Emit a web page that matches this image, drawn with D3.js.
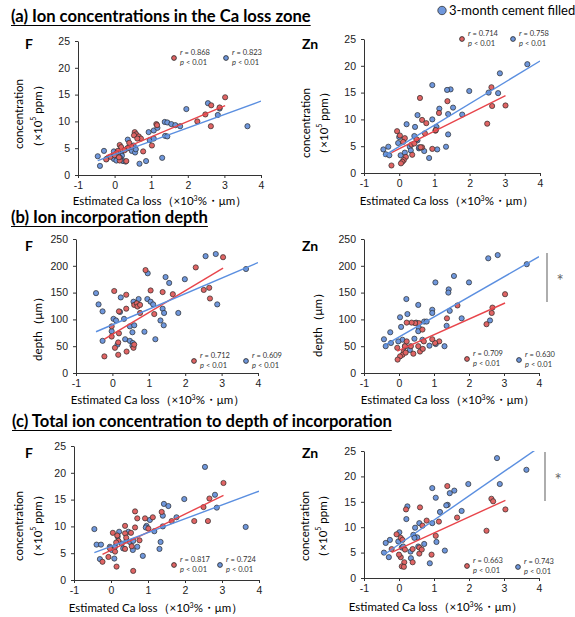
<!DOCTYPE html>
<html>
<head>
<meta charset="utf-8">
<script src="https://cdn.jsdelivr.net/npm/d3@7"></script>
<style>
  body { margin: 0; background: #fff; }
  svg { font-family: Lato, "Noto Sans", sans-serif; }
  .axis text { font-size: 10.5px; fill: #222; }
  .axis path, .axis line { stroke: #333; }
</style>
</head>
<body>
<div id="chart"></div>
<script>
// tick labels
var xTicks = [-1, 0, 1, 2, 3, 4];
var concTicks = [0, 5, 10, 15, 20, 25];
var depthTicks = [0, 50, 100, 150, 200, 250];

// (a) F : [Ca loss, concentration]
var aF_red = [[3.02,14.5],[2.64,13.0],[2.87,12.6],[2.48,11.3],[2.26,10.0],[2.63,9.1],[1.14,9.5],[1.16,9.3],[0.55,8.0],[0.59,7.6],[0.66,7.2],[0.53,7.4],[0.72,6.8],[0.62,6.8],[1.02,5.5],[0.78,4.4],[0.14,5.6],[0.18,5.2],[0.09,4.5],[0.46,5.3],[0.36,5.0],[0.40,6.0],[0.05,4.0],[0.14,2.7],[0.32,2.6],[-0.11,3.4],[-0.23,2.9],[0.27,4.6],[0.00,3.7],[0.12,3.3]];
var aF_blue = [[-0.46,3.5],[-0.40,1.7],[-0.29,4.5],[-0.22,3.0],[-0.02,4.4],[-0.02,3.0],[0.09,3.5],[0.18,3.9],[0.23,2.6],[0.36,6.6],[0.35,5.0],[0.47,4.5],[0.56,4.2],[0.58,4.8],[0.68,2.1],[0.86,2.6],[0.93,8.0],[1.07,8.3],[1.17,8.8],[0.96,6.5],[1.07,6.8],[1.30,3.2],[1.37,9.9],[1.44,9.8],[1.55,9.5],[1.66,9.3],[1.79,9.1],[1.38,7.3],[1.44,7.2],[1.96,12.3],[2.55,13.4],[2.82,11.2],[2.87,12.4],[3.63,9.1],[0.52,5.5],[0.20,3.6],[0.10,4.1],[0.30,2.5],[0.05,2.7],[0.15,3.2]];
// regression lines: [slope, intercept]
var aF_fitRed = [2.88, 4.25];
var aF_fitBlue = [2.49, 3.83];
var aF_r = ["0.868", "0.823"];

// (a) Zn
var aZn_red = [[2.62,16.0],[2.64,12.5],[3.02,12.6],[2.50,9.2],[1.37,13.4],[1.13,11.2],[1.03,7.9],[1.04,8.0],[0.59,14.0],[0.65,9.9],[0.77,9.3],[0.94,4.5],[0.65,4.8],[0.73,7.4],[-0.06,7.8],[0.02,7.0],[0.16,6.5],[0.11,5.8],[0.35,5.3],[0.37,3.4],[0.19,3.0],[0.13,2.4],[0.09,2.1],[0.05,1.8],[-0.22,1.4],[0.61,4.8],[0.49,6.3],[0.43,5.5]];
var aZn_blue = [[3.64,20.3],[2.86,18.6],[2.81,14.9],[2.54,15.0],[1.99,15.3],[1.46,15.6],[1.36,15.5],[0.94,16.4],[1.53,12.2],[1.79,10.9],[1.39,11.0],[1.14,12.0],[1.06,8.6],[0.94,10.0],[1.39,7.2],[1.33,4.9],[1.08,4.4],[0.85,2.8],[0.71,4.1],[0.56,4.6],[0.57,4.8],[0.52,10.8],[0.45,8.6],[0.43,6.9],[0.52,6.1],[0.21,9.1],[0.30,4.9],[0.33,4.2],[0.00,6.7],[-0.03,5.6],[0.04,3.3],[0.16,3.8],[-0.31,4.9],[-0.45,4.4],[-0.38,3.5],[-0.28,3.3]];
var aZn_fitRed = [3.29, 4.51];
var aZn_fitBlue = [3.99, 4.94];
var aZn_r = ["0.714", "0.758"];

// (b) F : [Ca loss, depth]
var bF_red = [[3.04,216],[2.29,197],[2.51,155],[2.66,159],[2.68,139],[1.66,147],[1.38,151],[0.91,192],[1.05,154],[1.15,110],[0.38,146],[0.05,153],[0.38,120],[0.60,127],[0.67,130],[0.69,124],[0.76,127],[0.18,115],[-0.02,87],[-0.02,68],[0.18,74],[0.07,47],[0.16,57],[0.16,34],[-0.22,31],[0.39,40],[0.58,47],[0.60,53],[0.76,112]];
var bF_blue = [[3.67,194],[2.56,218],[2.84,222],[2.88,128],[1.99,175],[1.46,179],[1.56,168],[1.81,112],[0.97,186],[0.96,138],[1.05,133],[1.12,128],[1.38,120],[1.42,112],[1.32,98],[1.41,89],[1.18,63],[0.88,77],[0.72,138],[0.58,133],[0.23,141],[0.21,114],[0.32,101],[0.03,101],[0.10,98],[-0.02,78],[0.48,87],[0.60,89],[0.35,63],[0.48,60],[0.55,76],[0.56,56],[0.55,51],[-0.45,149],[-0.38,128],[-0.27,115],[-0.27,60],[0.14,53]];
var bF_fitRed = [40.6, 72.2];
var bF_fitBlue = [29.0, 90.0];
var bF_r = ["0.712", "0.609"];

// (b) Zn
var bZn_red = [[3.03,147],[2.67,122],[2.65,112],[2.50,91],[1.67,126],[1.37,102],[1.15,59],[1.03,56],[0.95,63],[0.67,81],[0.57,93],[0.46,93],[0.36,94],[0.22,94],[0.71,59],[0.55,50],[0.60,40],[0.68,45],[0.41,36],[0.17,50],[0.14,40],[0.10,34],[0.03,31],[-0.04,25],[-0.05,47],[0.22,59],[0.19,38],[0.34,50]];
var bZn_blue = [[3.65,203],[2.82,220],[2.55,214],[2.60,98],[1.57,181],[2.00,169],[1.04,169],[1.42,156],[1.41,150],[1.79,102],[1.45,116],[0.95,118],[0.95,112],[1.36,88],[1.30,50],[1.05,54],[0.87,51],[0.55,127],[0.72,96],[0.79,96],[0.49,94],[0.57,84],[0.44,64],[0.55,78],[0.21,138],[0.24,110],[0.06,86],[0.03,104],[0.10,62],[-0.02,59],[0.31,43],[0.17,50],[-0.25,76],[-0.23,56],[-0.43,63],[-0.38,50],[0.67,62]];
var bZn_fitRed = [29.2, 42.1];
var bZn_fitBlue = [37.5, 67.0];
var bZn_r = ["0.709", "0.630"];

// (c) F : [Ca loss, concentration]
var cF_red = [[3.04,18.1],[2.66,15.2],[2.50,13.6],[2.62,11.0],[2.25,11.0],[1.64,11.0],[1.37,12.7],[1.13,11.7],[0.92,11.5],[1.01,9.6],[0.65,12.8],[0.71,11.5],[0.65,9.8],[0.77,7.4],[0.38,10.1],[0.54,8.8],[0.38,8.7],[0.41,7.9],[0.05,8.8],[0.17,8.3],[0.20,7.3],[0.14,7.0],[-0.03,5.9],[0.11,5.3],[-0.07,4.3],[-0.23,3.4],[0.15,2.5],[0.60,1.7],[0.38,5.8],[0.56,6.3]];
var cF_blue = [[3.64,9.9],[2.54,21.1],[2.81,15.9],[2.86,13.5],[1.98,15.1],[1.43,14.2],[1.55,13.8],[1.77,11.7],[1.40,12.0],[1.40,10.0],[1.34,7.1],[1.31,5.8],[1.05,11.2],[0.96,10.1],[0.94,9.8],[1.17,9.1],[0.86,4.5],[0.71,6.2],[0.59,5.6],[0.47,9.0],[0.42,7.4],[0.51,7.1],[0.22,9.0],[0.18,8.1],[0.11,6.2],[0.09,4.0],[-0.03,6.2],[0.02,5.6],[-0.45,9.5],[-0.39,6.6],[-0.27,6.6],[-0.30,3.9],[0.29,6.8],[0.33,5.9],[0.60,7.3]];
var cF_fitRed = [3.37, 5.55];
var cF_fitBlue = [2.58, 6.26];
var cF_r = ["0.817", "0.724"];

// (c) Zn
var cZn_red = [[3.04,13.5],[2.64,15.6],[2.69,15.1],[2.50,9.3],[1.38,18.1],[1.66,11.9],[1.14,11.1],[1.05,8.3],[0.93,4.6],[0.79,11.3],[0.60,13.9],[0.67,10.3],[0.58,6.0],[0.58,4.8],[0.65,5.6],[0.39,5.7],[0.39,3.1],[0.20,13.5],[0.17,5.6],[0.15,3.1],[0.08,2.3],[0.14,2.2],[0.05,4.1],[-0.07,8.6],[0.05,7.9],[0.10,7.5],[0.00,4.6],[-0.21,5.7]];
var cZn_blue = [[3.64,21.3],[2.80,23.6],[2.88,18.5],[1.98,18.5],[1.58,17.2],[1.45,16.7],[1.39,14.4],[1.35,14.3],[1.79,13.2],[1.17,13.0],[1.05,15.8],[0.95,17.7],[0.95,10.8],[1.07,7.1],[1.31,5.4],[0.88,2.9],[0.72,6.7],[0.58,10.8],[0.52,8.0],[0.55,6.2],[0.46,9.9],[0.41,8.5],[0.44,7.9],[0.33,5.2],[0.34,3.9],[0.24,14.1],[0.21,11.6],[0.01,9.0],[-0.02,7.2],[0.08,6.0],[-0.26,7.5],[-0.38,6.9],[-0.43,5.0],[-0.29,4.1],[0.12,6.2]];
var cZn_fitRed = [3.15, 5.72];
var cZn_fitBlue = [4.77, 6.63];
var cZn_r = ["0.663", "0.743"];

var redFill = "#e06464", blueFill = "#6f97dc";
var redLine = "#e8454b", blueLine = "#5b8fe0";

var svg = d3.select("#chart").append("svg").attr("width", 575).attr("height", 617);

// section titles, underlined
function title(txt, x, y) {
    var t = svg.append("text").attr("x", x).attr("y", y)
        .style("font-size", "16.6px").style("font-weight", "bold").text(txt);
    var w = t.node().getComputedTextLength();
    svg.append("line").attr("x1", x).attr("x2", x + w).attr("y1", y + 3.5).attr("y2", y + 3.5)
        .attr("stroke", "#000").attr("stroke-width", 1.2);
}
title("(a) Ion concentrations in the Ca loss zone", 11, 22);
title("(b) Ion incorporation depth", 11, 223);
title("(c) Total ion concentration to depth of incorporation", 12, 427);

// top legend (upper item is cut off by the picture edge)
svg.append("circle").attr("cx", 442).attr("cy", 10.5).attr("r", 4.2)
    .attr("fill", blueFill).attr("stroke", "#333").attr("stroke-width", 0.8);
svg.append("text").attr("x", 449).attr("y", 15).style("font-size", "13px").text("3-month cement filled");

// one scatter panel
function panel(p) {
    var x = d3.scaleLinear().domain([-1, 4]).range([p.x0, p.x1]);
    var y = d3.scaleLinear().domain([0, p.yMax]).range([p.y1, p.y0]);
    var g = svg.append("g");

    g.append("g").attr("class", "axis").attr("transform", "translate(0," + p.y1 + ")")
        .call(d3.axisBottom(x).tickValues(xTicks).tickFormat(d => String(d))
            .tickSize(3).tickSizeOuter(0).tickPadding(4));
    g.append("g").attr("class", "axis").attr("transform", "translate(" + p.x0 + ",0)")
        .call(d3.axisLeft(y).tickValues(p.yTicks).tickSize(3).tickSizeOuter(0).tickPadding(5));

    // regression lines, blue extended to axis end and clipped
    var clipId = "clip" + p.id;
    g.append("clipPath").attr("id", clipId).append("rect")
        .attr("x", p.x0).attr("y", p.y0).attr("width", p.x1 - p.x0).attr("height", p.y1 - p.y0);
    var fits = [
        {f: p.fitRed, from: d3.min(p.red, d => d[0]), to: d3.max(p.red, d => d[0]), c: redLine},
        {f: p.fitBlue, from: d3.min(p.blue, d => d[0]), to: 4, c: blueLine}
    ];

    // points: blue first, red on top
    g.selectAll(".pb").data(p.blue).enter().append("circle")
        .attr("cx", d => x(d[0])).attr("cy", d => y(d[1])).attr("r", 2.6)
        .attr("fill", blueFill).attr("stroke", "#2b2b2b").attr("stroke-width", 0.7);
    g.selectAll(".pr").data(p.red).enter().append("circle")
        .attr("cx", d => x(d[0])).attr("cy", d => y(d[1])).attr("r", 2.6)
        .attr("fill", redFill).attr("stroke", "#2b2b2b").attr("stroke-width", 0.7);

    fits.forEach(function(l) {
        g.append("line").attr("clip-path", "url(#" + clipId + ")")
            .attr("x1", x(l.from)).attr("y1", y(l.f[0] * l.from + l.f[1]))
            .attr("x2", x(l.to)).attr("y2", y(l.f[0] * l.to + l.f[1]))
            .attr("stroke", l.c).attr("stroke-width", 1.4);
    });

    // r / p legends
    [[p.leg[0], redFill, p.r[0]], [p.leg[1], blueFill, p.r[1]]].forEach(function(l) {
        var lx = l[0][0], ly = l[0][1];
        g.append("circle").attr("cx", lx).attr("cy", ly).attr("r", 2.4)
            .attr("fill", l[1]).attr("stroke", "#222").attr("stroke-width", 0.8);
        var t1 = g.append("text").attr("x", lx + 6).attr("y", ly - 3).style("font-size", "7.5px").attr("fill", "#333");
        t1.append("tspan").style("font-style", "italic").text("r");
        t1.append("tspan").text(" = " + l[2]);
        var t2 = g.append("text").attr("x", lx + 6).attr("y", ly + 6.5).style("font-size", "7.5px").attr("fill", "#333");
        t2.append("tspan").style("font-style", "italic").text("p");
        t2.append("tspan").text(" < 0.01");
    });

    // panel letter
    g.append("text").attr("x", p.lab[0]).attr("y", p.lab[1]).style("font-size", "14px")
        .style("font-weight", "bold").text(p.ion);

    // y label
    p.ylab.forEach(function(l) {
        var t = g.append("text").attr("transform", "translate(" + l[0] + "," + l[1] + ") rotate(-90)")
            .attr("text-anchor", "middle").attr("dominant-baseline", "central").style("font-size", "11.5px");
        if (l[2] === "unit") {
            t.append("tspan").text("（×10");
            t.append("tspan").attr("baseline-shift", "super").style("font-size", "7px").text("5");
            t.append("tspan").text(" ppm）");
        } else {
            t.text(l[2]);
        }
    });

    // x label
    var xt = g.append("text").attr("x", p.xlab[0]).attr("y", p.xlab[1]).attr("text-anchor", "middle")
        .style("font-size", "11.5px");
    xt.append("tspan").text("Estimated Ca loss（×10");
    xt.append("tspan").attr("baseline-shift", "super").style("font-size", "7px").text("3");
    xt.append("tspan").text("%・μm）");

    // significance marker
    if (p.sig) {
        g.append("line").attr("x1", p.sig[0]).attr("x2", p.sig[0]).attr("y1", p.sig[1]).attr("y2", p.sig[2])
            .attr("stroke", "#777").attr("stroke-width", 1.2);
        g.append("text").attr("x", p.sig[0] + 13).attr("y", (p.sig[1] + p.sig[2]) / 2 + 9)
            .attr("text-anchor", "middle").style("font-size", "17px").attr("fill", "#666").text("*");
    }
}

panel({id: "aF", ion: "F", red: aF_red, blue: aF_blue, fitRed: aF_fitRed, fitBlue: aF_fitBlue, r: aF_r,
    yMax: 25, yTicks: concTicks, x0: 78, x1: 261, y0: 41, y1: 175,
    leg: [[174, 58], [226, 58]], lab: [25, 49],
    ylab: [[18, 114, "concentration"], [37, 116, "unit"]], xlab: [160, 205]});
panel({id: "aZn", ion: "Zn", red: aZn_red, blue: aZn_blue, fitRed: aZn_fitRed, fitBlue: aZn_fitBlue, r: aZn_r,
    yMax: 25, yTicks: concTicks, x0: 364, x1: 540, y0: 39, y1: 173,
    leg: [[462, 39], [513, 39]], lab: [302, 49],
    ylab: [[305, 123, "concentration"], [323, 123, "unit"]], xlab: [447, 205]});
panel({id: "bF", ion: "F", red: bF_red, blue: bF_blue, fitRed: bF_fitRed, fitBlue: bF_fitBlue, r: bF_r,
    yMax: 250, yTicks: depthTicks, x0: 76, x1: 258, y0: 239, y1: 373,
    leg: [[194, 361], [246, 361]], lab: [25, 251],
    ylab: [[37, 326, "depth（μm）"]], xlab: [158, 404]});
panel({id: "bZn", ion: "Zn", red: bZn_red, blue: bZn_blue, fitRed: bZn_fitRed, fitBlue: bZn_fitBlue, r: bZn_r,
    yMax: 250, yTicks: depthTicks, x0: 364, x1: 539, y0: 239, y1: 373,
    leg: [[467, 359], [519, 360]], lab: [302, 251],
    ylab: [[317, 322, "depth（μm）"]], xlab: [448, 404], sig: [547, 253, 302]});
panel({id: "cF", ion: "F", red: cF_red, blue: cF_blue, fitRed: cF_fitRed, fitBlue: cF_fitBlue, r: cF_r,
    yMax: 25, yTicks: concTicks, x0: 74, x1: 259, y0: 446, y1: 580,
    leg: [[174, 565], [220, 565]], lab: [25, 458],
    ylab: [[18, 526, "concentration"], [37, 526, "unit"]], xlab: [156, 612]});
panel({id: "cZn", ion: "Zn", red: cZn_red, blue: cZn_blue, fitRed: cZn_fitRed, fitBlue: cZn_fitBlue, r: cZn_r,
    yMax: 25, yTicks: concTicks, x0: 364, x1: 539, y0: 451, y1: 578,
    leg: [[467, 566], [518, 567]], lab: [302, 458],
    ylab: [[304, 526, "concentration"], [322, 526, "unit"]], xlab: [436, 611], sig: [545, 452, 501]});
</script>
</body>
</html>
